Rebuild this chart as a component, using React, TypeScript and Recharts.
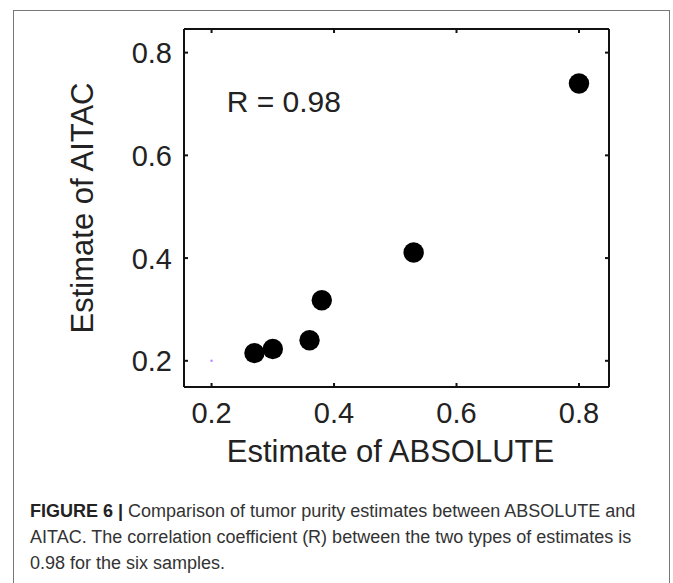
import { ReferenceDot, Scatter, ScatterChart, XAxis, YAxis } from "recharts";

// purity estimates for the six samples
const absoluteEst = [0.27, 0.3, 0.36, 0.38, 0.53, 0.8];
const aitacEst = [0.215, 0.223, 0.24, 0.318, 0.411, 0.74];
// faint reference marker at the origin corner
const refX = [0.2];
const refY = [0.2];

const xTicks = [0.2, 0.4, 0.6, 0.8];
const yTicks = [0.2, 0.4, 0.6, 0.8];
const xDomain = [0.155, 0.849];
const yDomain = [0.149, 0.846];

const rLabel = "R = 0.98";
const rLabelAt = { x: 0.318, y: 0.705 };

const points = absoluteEst.map((a, i) => ({ absolute: a, aitac: aitacEst[i] }));
const refPoints = refX.map((a, i) => ({ absolute: a, aitac: refY[i] }));

const FONT = '"Liberation Sans", Arial, sans-serif';
const TEXT = "#222";
const AXIS = "#111";
const TICK_LEN = 4;
const X_MARGIN = 15;
const Y_MARGIN = 12;

// inward tick marks (matlab style) + optional label
function makeTick(side: "bottom" | "top" | "left" | "right", gap: number, showLabel: boolean) {
  return (p: any) => {
    const { x, y, payload } = p;
    let line = null;
    let label = null;
    if (side === "bottom") {
      const ay = y - gap;
      line = <line x1={x} x2={x} y1={ay} y2={ay - TICK_LEN} stroke={AXIS} strokeWidth={2} />;
      if (showLabel)
        label = (
          <text x={x} y={y} dy="0.72em" textAnchor="middle" fontSize={29} fill={TEXT}>
            {payload.value}
          </text>
        );
    } else if (side === "top") {
      line = <line x1={x} x2={x} y1={y} y2={y + TICK_LEN} stroke={AXIS} strokeWidth={2} />;
    } else if (side === "left") {
      const ax = x + gap;
      line = <line x1={ax} x2={ax + TICK_LEN} y1={y} y2={y} stroke={AXIS} strokeWidth={2} />;
      if (showLabel)
        label = (
          <text x={x} y={y} dy="0.36em" textAnchor="end" fontSize={29} fill={TEXT}>
            {payload.value}
          </text>
        );
    } else {
      line = <line x1={x} x2={x - TICK_LEN} y1={y} y2={y} stroke={AXIS} strokeWidth={2} />;
    }
    return (
      <g>
        {line}
        {label}
      </g>
    );
  };
}

export default function App() {
  return (
    <div style={{ fontFamily: FONT }}>
      <div
        style={{
          position: "absolute",
          left: 13,
          top: 10,
          width: 657,
          height: 573,
          border: "1.5px solid #777",
          borderBottom: "none",
          boxSizing: "border-box",
        }}
      />
      <div style={{ position: "absolute", left: 0, top: 0 }}>
        <ScatterChart
          width={673}
          height={480}
          margin={{ top: 28, right: 63, bottom: 13, left: 77 }}
        >
          <XAxis
            dataKey="absolute"
            type="number"
            domain={xDomain}
            ticks={xTicks}
            height={80}
            stroke={AXIS}
            strokeWidth={2}
            tickLine={false}
            tickSize={0}
            tickMargin={X_MARGIN}
            tick={makeTick("bottom", X_MARGIN, true)}
            label={{
              value: "Estimate of ABSOLUTE",
              position: "insideBottom",
              offset: 5,
              dx: -6,
              fontSize: 31,
              fill: TEXT,
            }}
          />
          <XAxis
            xAxisId="top"
            dataKey="absolute"
            orientation="top"
            type="number"
            domain={xDomain}
            ticks={xTicks}
            height={1}
            stroke={AXIS}
            strokeWidth={2}
            tickLine={false}
            tickSize={0}
            tickMargin={0}
            tick={makeTick("top", 0, false)}
          />
          <YAxis
            dataKey="aitac"
            type="number"
            domain={yDomain}
            ticks={yTicks}
            width={107}
            stroke={AXIS}
            strokeWidth={2}
            tickLine={false}
            tickSize={0}
            tickMargin={Y_MARGIN}
            tick={makeTick("left", Y_MARGIN, true)}
            label={{
              value: "Estimate of AITAC",
              angle: -90,
              position: "insideLeft",
              offset: 5,
              fontSize: 31,
              fill: TEXT,
              style: { textAnchor: "middle" },
            }}
          />
          <YAxis
            yAxisId="right"
            dataKey="aitac"
            orientation="right"
            type="number"
            domain={yDomain}
            ticks={yTicks}
            width={1}
            stroke={AXIS}
            strokeWidth={2}
            tickLine={false}
            tickSize={0}
            tickMargin={0}
            tick={makeTick("right", 0, false)}
          />
          <ReferenceDot
            x={rLabelAt.x}
            y={rLabelAt.y}
            r={0}
            stroke="none"
            label={{ value: rLabel, position: "center", fontSize: 30, fill: TEXT }}
          />
          <Scatter
            data={refPoints}
            xAxisId="top"
            yAxisId="right"
            isAnimationActive={false}
            shape={(p: any) => <circle cx={p.cx} cy={p.cy} r={1.3} fill="#c58cff" />}
          />
          <Scatter
            data={points}
            isAnimationActive={false}
            shape={(p: any) => <circle cx={p.cx} cy={p.cy} r={10.2} fill="#000" />}
          />
        </ScatterChart>
      </div>
      <div
        style={{
          position: "absolute",
          left: 30,
          top: 498,
          width: 630,
          fontSize: 18,
          lineHeight: "26px",
          color: "#333",
          whiteSpace: "nowrap",
        }}
      >
        <b style={{ color: "#222" }}>FIGURE 6 |</b> Comparison of tumor purity estimates between ABSOLUTE and
        <br />
        AITAC. The correlation coefficient (R) between the two types of estimates is
        <br />
        0.98 for the six samples.
      </div>
    </div>
  );
}
